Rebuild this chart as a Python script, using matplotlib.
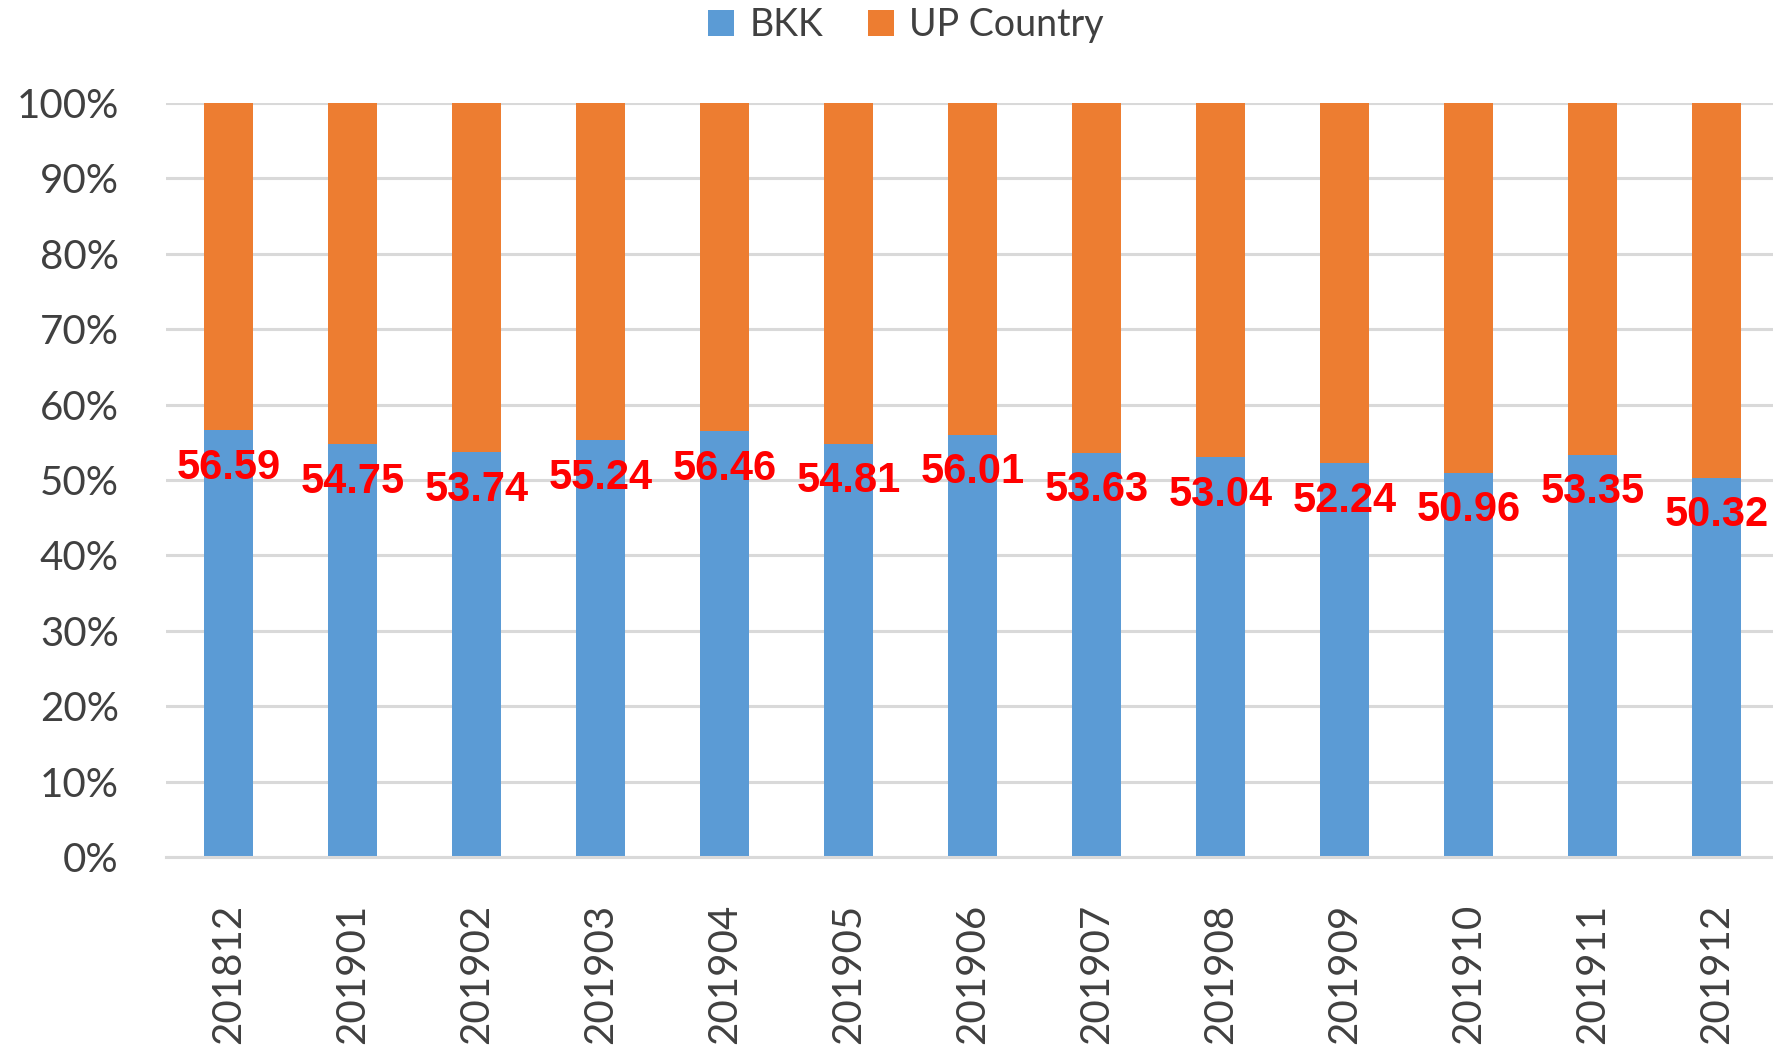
import matplotlib.pyplot as plt
from matplotlib.ticker import FuncFormatter

months = ["201812", "201901", "201902", "201903", "201904", "201905", "201906",
          "201907", "201908", "201909", "201910", "201911", "201912"]
bkk = [56.59, 54.75, 53.74, 55.24, 56.46, 54.81, 56.01,
       53.63, 53.04, 52.24, 50.96, 53.35, 50.32]
up_country = [100 - v for v in bkk]

BLUE = "#5B9BD5"
ORANGE = "#ED7D31"
GRID = "#D9D9D9"
TEXT = "#404040"


def make_chart():
    plt.rcParams["font.family"] = ["Lato", "DejaVu Sans"]
    fig = plt.figure(figsize=(17.73, 10.54), dpi=100)
    ax = fig.add_axes([166 / 1773, 1 - 857 / 1054, 1 - 166 / 1773, (857 - 103) / 1054])

    xs = list(range(len(months)))
    ax.bar(xs, bkk, width=0.40, color=BLUE, label="BKK", zorder=2)
    ax.bar(xs, up_country, width=0.40, bottom=bkk, color=ORANGE, label="UP Country", zorder=2)

    # data labels sit just inside the top of the BKK segment
    for x, v in zip(xs, bkk):
        ax.text(x, v - 5.0, f"{v:.2f}", ha="center", va="center", color="red",
                fontsize=30, fontweight="heavy", family="Liberation Sans",
                zorder=3, clip_on=False)

    ax.set_xlim(-0.503, len(months) - 0.544)
    ax.set_ylim(0, 100)
    ax.set_yticks(range(0, 101, 10))
    ax.yaxis.set_major_formatter(FuncFormatter(lambda v, _: f"{v:.0f}%"))
    ax.grid(axis="y", color=GRID, linewidth=2.2, zorder=0)
    ax.set_axisbelow(True)
    for side in ["top", "right", "left"]:
        ax.spines[side].set_visible(False)
    ax.spines["bottom"].set_color(GRID)
    ax.spines["bottom"].set_linewidth(2.2)

    ax.set_xticks(xs)
    ax.set_xticklabels(months, rotation=90, va="top")
    ax.tick_params(axis="x", length=0, pad=34, labelsize=29, labelcolor=TEXT)
    ax.tick_params(axis="y", length=0, pad=34, labelsize=29, labelcolor=TEXT)

    fig.legend(loc="center", bbox_to_anchor=(0.511, 0.976), ncol=2, frameon=False,
               fontsize=27, handlelength=0.7, handleheight=0.7, handletextpad=0.4,
               columnspacing=1.2, labelcolor=TEXT)

    fig.savefig("out.png", dpi=100)


if __name__ == "__main__":
    make_chart()
